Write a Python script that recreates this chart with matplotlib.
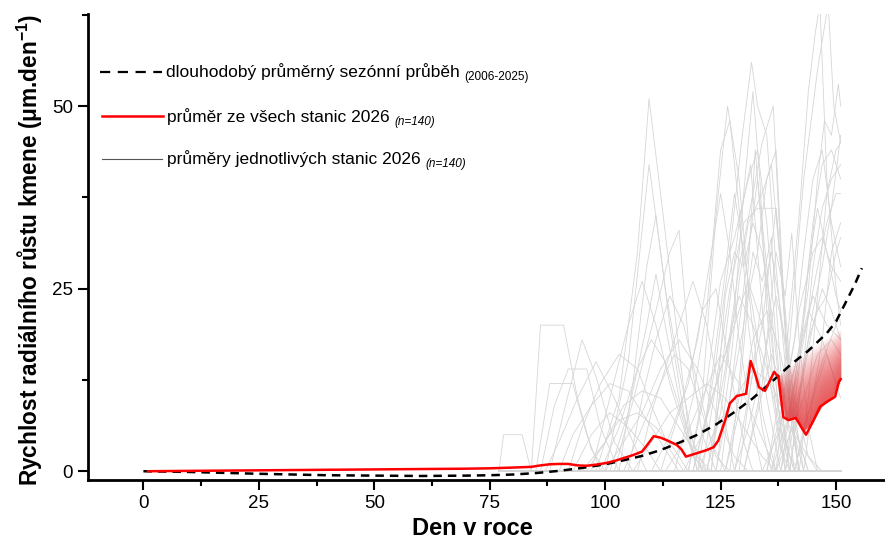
import matplotlib
matplotlib.use('Agg')
import matplotlib.pyplot as plt
from matplotlib.lines import Line2D
from matplotlib.ticker import MultipleLocator
import numpy as np

plt.rcParams['font.family'] = ['Liberation Sans', 'DejaVu Sans']
plt.rcParams['mathtext.fontset'] = 'custom'
plt.rcParams['mathtext.rm'] = 'Liberation Sans'
plt.rcParams['mathtext.bf'] = 'Liberation Sans:bold'
plt.rcParams['mathtext.it'] = 'Liberation Sans:italic'

# long-term mean seasonal course (2006-2025)
longterm_days = [0, 10, 25, 40, 50, 60, 70, 75, 80, 85, 90, 95, 100, 104, 108, 112, 116, 120,
                 124, 128, 132, 136, 140, 144, 148, 150, 152, 154, 155.6]
longterm_vals = [0, -0.1, -0.35, -0.55, -0.6, -0.65, -0.6, -0.55, -0.45, -0.25, 0.05, 0.45, 0.95,
                 1.5, 2.1, 2.9, 3.9, 5.0, 6.4, 8.1, 10.0, 12.2, 14.5, 16.5, 18.9, 20.5, 23.0, 25.5, 27.8]

# mean of all stations 2026
mean_days = [1, 10, 20, 30, 40, 50, 60, 70, 75, 80, 84, 86, 88, 90, 92, 94, 96, 98, 100, 102, 104,
             106, 108, 109, 110.5, 112, 113.5, 115.5, 116.5, 117.5, 120, 122, 123.5, 124.5, 126, 127,
             128.5, 130.5, 131.5, 132.5, 133.3, 134.6, 135.6, 136.6, 137.5, 138.6, 139.7, 141.3,
             142.5, 143.5, 145, 146.5, 148, 149.8, 150.6, 151]
mean_vals = [0.0, 0.05, 0.1, 0.15, 0.2, 0.25, 0.3, 0.35, 0.4, 0.5, 0.6, 0.8, 0.95, 1.0, 1.0, 0.8,
             0.75, 0.9, 1.1, 1.4, 1.8, 2.2, 2.7, 3.5, 4.8, 4.6, 4.2, 3.6, 3.0, 2.0, 2.5, 2.9, 3.3,
             4.2, 7.0, 9.3, 10.3, 10.6, 15.1, 13.3, 11.5, 11.0, 12.3, 13.6, 12.9, 7.4, 7.0, 7.3,
             6.0, 5.0, 6.8, 8.8, 9.5, 10.2, 12.2, 12.6]

# upper edge of the shaded spread at the end of the season
band_days = [137.5, 139, 141, 143, 145, 147, 149, 151]
band_top = [13.2, 14.0, 15.0, 16.0, 17.0, 17.8, 18.6, 19.5]

# individual station means 2026 (day, value) knots, 0 elsewhere
stations = [
    [(84, 0), (86, 20), (91, 20), (94, 10), (97, 3), (100, 0)],
    [(77, 0), (78, 5), (82, 5), (84, 0)],
    [(85, 0), (88, 12), (93, 12), (96, 5), (99, 0)],
    [(86, 0), (89, 9), (92, 14), (96, 14), (99, 6), (103, 0)],
    [(88, 0), (91, 8), (95, 18), (98, 13), (102, 4), (106, 0)],
    [(98, 0), (103, 10), (107, 30), (109.5, 51), (112, 38), (115, 22), (118, 6), (121, 0)],
    [(100, 0), (105, 15), (109.5, 42), (112, 30), (114, 20), (117, 8), (120, 0)],
    [(102, 0), (107, 12), (111, 22), (114, 30), (116, 33), (118, 18), (121, 5), (124, 0)],
    [(99, 0), (103, 6), (107, 14), (110, 18), (113, 15), (116, 9), (119, 2), (122, 0)],
    [(101, 0), (105, 8), (109, 20), (111, 27), (113, 20), (116, 10), (120, 0)],
    [(104, 0), (108, 6), (112, 12), (115, 16), (118, 14), (121, 8), (124, 2), (127, 0)],
    [(95, 0), (100, 4), (104, 9), (108, 11), (112, 10), (116, 6), (120, 2), (123, 0)],
    [(110, 0), (114, 5), (118, 12), (121, 22), (124, 25), (127, 14), (130, 4), (132, 0)],
    [(118, 0), (121, 10), (124, 35), (126.5, 50), (129, 40), (131, 25), (134, 8), (137, 0)],
    [(120, 0), (124, 15), (127, 30), (129.5, 45), (131.7, 56), (133, 50), (135, 46), (137, 28),
     (140, 8), (142, 0)],
    [(122, 0), (126, 14), (129, 28), (132, 38), (134, 45), (136.4, 50), (138, 30), (140, 10), (142, 0)],
    [(121, 0), (124, 12), (127, 25), (130, 34), (133, 36), (137, 36), (139, 20), (141, 5), (143, 0)],
    [(119, 0), (122, 8), (125, 22), (128, 38), (130, 30), (132, 22), (135, 10), (138, 0)],
    [(123, 0), (126, 18), (129, 34), (131.5, 42), (133, 30), (135, 15), (138, 3), (140, 0)],
    [(117, 0), (121, 5), (125, 14), (128, 20), (131, 26), (134, 20), (137, 10), (140, 2), (142, 0)],
    [(124, 0), (127, 10), (130, 20), (132, 30), (134, 26), (136, 32), (138, 14), (141, 0)],
    [(125, 0), (128, 15), (131, 30), (133, 40), (135, 28), (137, 12), (139, 0)],
    [(120, 0), (124, 6), (128, 10), (132, 14), (136, 12), (140, 6), (144, 2), (147, 0)],
    [(130, 0), (134, 12), (137, 30), (139, 24), (140.4, 32.6), (142, 18), (144, 6), (146, 0)],
    [(135, 0), (139, 15), (142, 35), (144, 52), (145.5, 60), (146.5, 64), (148, 40), (150, 25), (151, 20)],
    [(137, 0), (140, 18), (143, 40), (146, 55), (148.3, 64), (149.5, 50), (151, 45)],
    [(138, 0), (141, 12), (144, 25), (146, 40), (147.5, 48), (149, 46), (150.5, 53), (151, 50)],
    [(136, 0), (139, 10), (142, 22), (145, 30), (147, 32), (149, 28), (151, 26)],
    [(137, 0), (140, 8), (143, 18), (146, 28), (148, 34), (150, 38), (151, 38)],
    [(139, 0), (142, 10), (145, 20), (147, 25), (149, 22), (151, 18)],
    [(134, 0), (138, 6), (141, 14), (144, 22), (147, 18), (150, 12), (151, 10)],
    [(140, 0), (143, 15), (145, 28), (147, 36), (149, 40), (151, 42)],
    [(141, 0), (144, 8), (147, 15), (150, 20), (151, 22)],
    [(126, 0), (129, 8), (132, 18), (135, 22), (138, 16), (141, 6), (144, 0)],
    [(106, 0), (110, 4), (114, 8), (118, 10), (122, 12), (126, 10), (130, 6), (134, 2), (137, 0)],
    [(96, 0), (99, 3), (103, 7), (107, 8), (111, 6), (115, 3), (118, 0)],
    [(127, 0), (129, 12), (131, 28), (132.5, 44), (134, 32), (136, 18), (138, 6), (140, 0)],
    [(143, 0), (145, 10), (147, 18), (149, 30), (151, 34)],
    [(128, 0), (131, 10), (134, 20), (137, 36), (139, 22), (141, 8), (143, 0)],
    [(90, 0), (93, 5), (97, 9), (101, 12), (105, 11), (109, 7), (113, 3), (116, 0)],
    [(92, 0), (95, 6), (99, 12), (103, 16), (107, 14), (110, 9), (114, 3), (117, 0)],
    [(97, 0), (101, 10), (105, 20), (108, 26), (111, 20), (114, 12), (118, 4), (121, 0)],
    [(103, 0), (106, 12), (109, 28), (111, 35), (113, 25), (116, 14), (119, 4), (122, 0)],
    [(105, 0), (108, 10), (111, 18), (114, 24), (117, 20), (120, 12), (123, 4), (126, 0)],
    [(107, 0), (110, 8), (113, 14), (116, 20), (119, 26), (122, 20), (125, 10), (128, 0)],
    [(112, 0), (116, 8), (120, 18), (123, 30), (125, 38), (127, 30), (129, 18), (132, 6), (134, 0)],
    [(115, 0), (119, 10), (122, 22), (125, 44), (127, 48), (129, 36), (131, 20), (134, 6), (136, 0)],
    [(118, 0), (122, 12), (125, 26), (128, 32), (131, 40), (133, 44), (135, 34), (137, 18), (139, 4),
     (141, 0)],
    [(122, 0), (125, 8), (128, 22), (130, 38), (132, 52), (133.5, 40), (135, 22), (137, 8), (139, 0)],
    [(124, 0), (127, 14), (129, 26), (131, 34), (134, 38), (136, 42), (138, 28), (140, 10), (142, 0)],
    [(126, 0), (129, 10), (131, 24), (133, 30), (135, 40), (137, 44), (138.5, 26), (140, 8), (142, 0)],
    [(119, 0), (123, 10), (126, 16), (129, 24), (132, 20), (135, 14), (138, 6), (141, 0)],
    [(128, 0), (131, 6), (134, 14), (137, 24), (139, 18), (141, 10), (144, 2), (146, 0)],
    [(136, 0), (139, 6), (141, 12), (143, 22), (145, 34), (147, 42), (149, 44), (151, 40)],
    [(138, 0), (141, 8), (143, 14), (145, 22), (147, 28), (149, 36), (151, 46)],
    [(139, 0), (142, 14), (144, 28), (146, 36), (148, 30), (150, 24), (151, 22)],
    [(137, 0), (140, 5), (143, 10), (146, 16), (149, 18), (151, 16)],
    [(141, 0), (143, 6), (146, 12), (148, 16), (150, 12), (151, 12)],
    [(135, 0), (138, 8), (141, 18), (143, 30), (145, 40), (147, 44), (149, 34), (151, 28)],
    [(140, 0), (142, 10), (144, 18), (146, 22), (148, 24), (150, 30), (151, 32)],
    [(113, 0), (117, 4), (121, 10), (125, 16), (129, 12), (133, 6), (137, 0)],
    [(100, 0), (104, 4), (108, 8), (112, 14), (116, 18), (120, 14), (124, 8), (128, 2), (131, 0)],
    [(87, 0), (90, 4), (94, 10), (98, 15), (102, 10), (106, 4), (109, 0)],
    [(93, 0), (97, 5), (101, 8), (105, 6), (109, 3), (112, 0)],
    [(129, 0), (132, 14), (134, 24), (136, 30), (138, 22), (140, 12), (142, 4), (144, 0)],
    [(123, 0), (126, 24), (128, 30), (130, 28), (132, 34), (134, 30), (136, 22), (138, 10), (140, 0)],
    [(130, 0), (133, 8), (136, 16), (139, 10), (142, 16), (145, 24), (148, 20), (151, 18)],
    [(142, 0), (144, 10), (146, 24), (148, 38), (150, 44), (151, 45)],
]
station_start, station_end = 77, 151

fig = plt.figure(figsize=(8.85, 5.42), dpi=100)
ax = fig.add_axes([88 / 885, 62 / 542, 797 / 885, 466 / 542])

grey = '#d6d6d6'
for st in stations:
    d = [p[0] for p in st]
    v = [p[1] for p in st]
    if d[0] > station_start:
        d = [station_start] + d
        v = [0] + v
    if d[-1] < station_end:
        d = d + [station_end]
        v = v + [0]
    ax.plot(d, v, color=grey, lw=0.6, zorder=1)

# shaded spread: stacked translucent layers fading upward
band_low = np.interp(band_days, mean_days, mean_vals)
band_hi = np.array(band_top)
n_layers = 30
for k in range(n_layers):
    frac = (k + 1) / n_layers
    ax.fill_between(band_days, band_low, band_low + frac * (band_hi - band_low),
                    color='#e8393c', alpha=0.05, lw=0, zorder=2)

ax.plot(longterm_days, longterm_vals, color='black', lw=1.8, ls=(0, (3.4, 2.4)), zorder=3)
ax.plot(mean_days, mean_vals, color='#ff0000', lw=1.8, zorder=4)

ax.set_xlim(-12, 160.6)
ax.set_ylim(-1.2, 62.6)
ax.xaxis.set_major_locator(MultipleLocator(25))
ax.xaxis.set_minor_locator(MultipleLocator(12.5))
ax.yaxis.set_major_locator(MultipleLocator(25))
ax.yaxis.set_minor_locator(MultipleLocator(12.5))
ax.tick_params(which='major', direction='out', length=7, width=1.5, labelsize=13.5, pad=4)
ax.tick_params(which='minor', direction='out', length=4, width=1.5)
for side in ['top', 'right']:
    ax.spines[side].set_visible(False)
for side in ['left', 'bottom']:
    ax.spines[side].set_linewidth(2)

ax.set_xlabel('Den v roce', fontsize=17, fontweight='bold')
ax.xaxis.set_label_coords(0.482, -0.08)
ax.xaxis.label.set_va('top')
ax.set_ylabel('Rychlost radiálního růstu kmene (μm.den$^{\\mathbf{-1}}$)', fontsize=16.3, fontweight='bold')
ax.yaxis.set_label_coords(-0.054, 0.494)

# legend drawn by hand
rows = [0.876, 0.781, 0.689]
ax.add_line(Line2D([0.015, 0.093], [rows[0]] * 2, transform=ax.transAxes, color='black',
                   lw=1.6, ls=(0, (4.6, 3.4))))
ax.add_line(Line2D([0.017, 0.094], [rows[1]] * 2, transform=ax.transAxes, color='#ff0000', lw=1.8))
ax.add_line(Line2D([0.017, 0.093], [rows[2]] * 2, transform=ax.transAxes, color='#555555', lw=0.8))

labels = ['dlouhodobý průměrný sezónní průběh', 'průměr ze všech stanic 2026',
          'průměry jednotlivých stanic 2026']
subs = ['(2006-2025)', '(n=140)', '(n=140)']
sub_style = ['normal', 'italic', 'italic']
text_x = [0.098, 0.0995, 0.0995]
for lab, sub, sty, tx, ry in zip(labels, subs, sub_style, text_x, rows):
    t = ax.text(tx, ry, lab, transform=ax.transAxes, fontsize=12.5, va='center', ha='left')
    ax.annotate(sub, xy=(1, 0.5), xycoords=t, xytext=(3, -4), textcoords='offset points',
                fontsize=8.5, style=sty, va='center', ha='left')

fig.savefig('out.png', dpi=100)
